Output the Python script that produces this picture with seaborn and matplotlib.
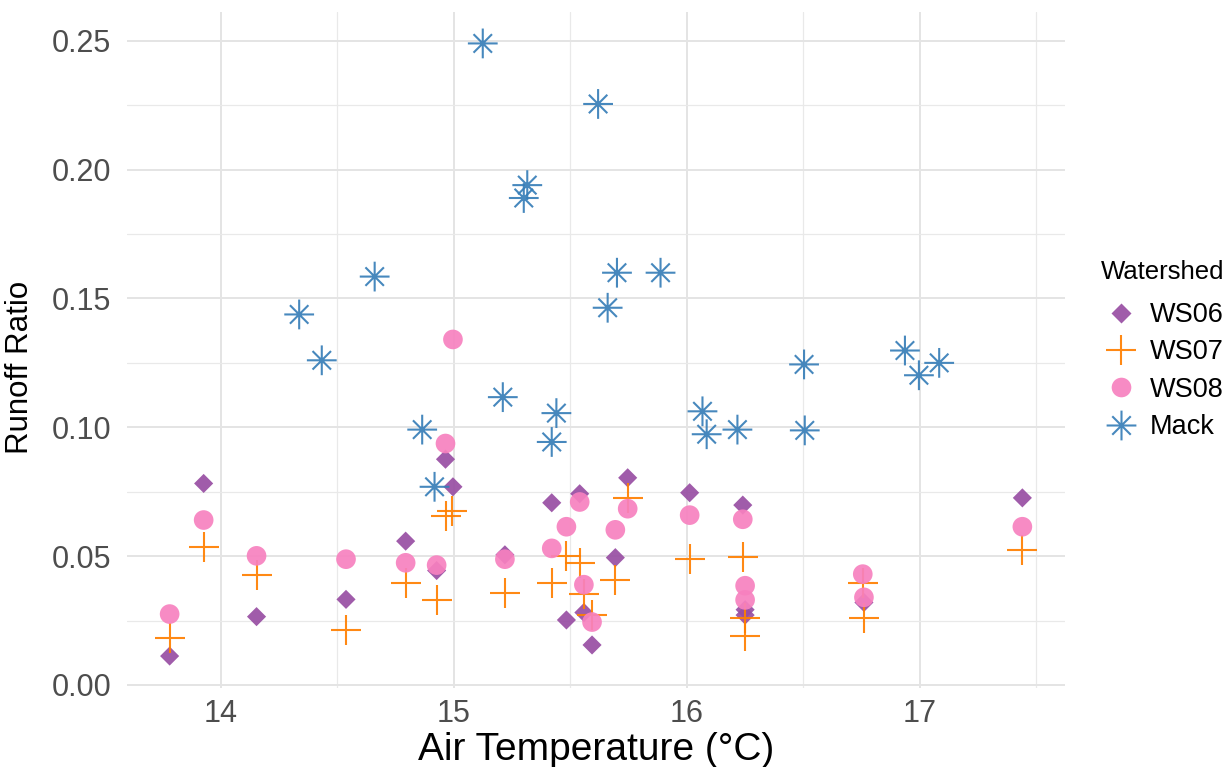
import numpy as np
import pandas as pd
import matplotlib
matplotlib.use("Agg")
import matplotlib.pyplot as plt
from matplotlib.path import Path
from matplotlib.lines import Line2D
import seaborn as sns

# ---------------- data ----------------
ws06_temp = [13.78, 13.926, 14.153, 14.537, 14.793, 14.926, 14.964, 14.996, 15.219,
             15.42, 15.483, 15.54, 15.558, 15.593, 15.693, 15.746, 16.012, 16.24,
             16.25, 16.25, 16.76, 17.44]
ws06_ratio = [0.0112, 0.0782, 0.0265, 0.0332, 0.0558, 0.0444, 0.0876, 0.0769, 0.0505,
              0.0707, 0.0252, 0.0742, 0.0281, 0.0155, 0.0494, 0.0804, 0.0746, 0.0698,
              0.0292, 0.0271, 0.032, 0.0726]

ws07_temp = [13.78, 13.926, 14.153, 14.537, 14.793, 14.926, 14.967, 14.993, 15.219,
             15.42, 15.483, 15.54, 15.558, 15.593, 15.693, 15.746, 16.012, 16.24,
             16.25, 16.25, 16.755, 16.76, 17.44]
ws07_ratio = [0.0181, 0.0536, 0.0426, 0.0213, 0.0397, 0.0329, 0.0655, 0.0675, 0.0358,
              0.0394, 0.0501, 0.0474, 0.0353, 0.0271, 0.0407, 0.0726, 0.049, 0.0497,
              0.0258, 0.019, 0.0394, 0.0258, 0.0523]

ws08_temp = [13.78, 13.926, 14.153, 14.537, 14.793, 14.926, 14.964, 14.996, 15.219,
             15.42, 15.483, 15.54, 15.558, 15.593, 15.693, 15.746, 16.012, 16.24,
             16.25, 16.25, 16.755, 16.76, 17.44]
ws08_ratio = [0.0275, 0.064, 0.0501, 0.0488, 0.0474, 0.0465, 0.0937, 0.1341, 0.0488,
              0.053, 0.0614, 0.071, 0.0389, 0.0244, 0.0602, 0.0684, 0.0659, 0.0643,
              0.0385, 0.033, 0.043, 0.034, 0.0614]

mack_temp = [15.124, 15.619, 15.315, 15.30, 14.66, 15.70, 15.887, 15.66, 14.336,
             14.433, 15.21, 15.44, 14.864, 15.42, 16.503, 16.936, 16.996, 17.083,
             16.067, 16.085, 16.217, 16.506, 14.917]
mack_ratio = [0.249, 0.2255, 0.194, 0.189, 0.1585, 0.160, 0.160, 0.1464, 0.1438,
              0.126, 0.1117, 0.1055, 0.0991, 0.0943, 0.1244, 0.1298, 0.1202, 0.125,
              0.1062, 0.0973, 0.0991, 0.0988, 0.0769]

watersheds = ["WS06", "WS07", "WS08", "Mack"]
x_ticks = [14, 15, 16, 17]
y_ticks = [0.00, 0.05, 0.10, 0.15, 0.20, 0.25]

# ---------------- styling ----------------
colors = {"WS06": "#984EA3", "WS07": "#FF7F00", "WS08": "#F781BF", "Mack": "#377EB8"}

d = 0.62
asterisk = Path(
    [(0, -1), (0, 1), (-1, 0), (1, 0), (-d, -d), (d, d), (-d, d), (d, -d)],
    [Path.MOVETO, Path.LINETO] * 4,
)
markers = {"WS06": "D", "WS07": "+", "WS08": "o", "Mack": asterisk}
sizes = {"WS06": 95, "WS07": 470, "WS08": 200, "Mack": 460}

frames = []
for name, xs, ys in [("WS06", ws06_temp, ws06_ratio), ("WS07", ws07_temp, ws07_ratio),
                     ("WS08", ws08_temp, ws08_ratio), ("Mack", mack_temp, mack_ratio)]:
    frames.append(pd.DataFrame({"temp": xs, "ratio": ys, "Watershed": name}))
df = pd.concat(frames, ignore_index=True)

sns.set_style("white")
plt.rcParams["font.family"] = ["Liberation Sans", "DejaVu Sans"]

fig = plt.figure(figsize=(12.29, 7.67), dpi=100)
ax = fig.add_axes([127 / 1229, 1 - 688 / 767, (1065 - 127) / 1229, (688 - 12) / 767])

for name in watersheds:
    sub = df[df["Watershed"] == name]
    kw = dict(data=sub, x="temp", y="ratio", ax=ax, marker=markers[name],
              s=sizes[name], color=colors[name], alpha=0.92, zorder=3, legend=False)
    if name in ("WS06", "WS08"):
        kw["edgecolor"] = "none"
    elif name == "WS07":
        kw["linewidth"] = 1.5
    else:
        kw["edgecolor"] = colors[name]
        kw["facecolor"] = "none"
        kw["linewidth"] = 1.5
    sns.scatterplot(**kw)

ax.set_xticks(x_ticks)
ax.set_xticklabels([str(t) for t in x_ticks])
ax.set_yticks(y_ticks)
ax.set_yticklabels([f"{t:.2f}" for t in y_ticks])
ax.set_xticks([14.5, 15.5, 16.5, 17.5], minor=True)
ax.set_yticks(np.arange(0.025, 0.26, 0.05), minor=True)
ax.set_xlim(13.597, 17.623)
ax.set_ylim(-0.0012, 0.2612)
ax.grid(True, which="major", color="#e4e4e4", linewidth=1.4, zorder=0)
ax.grid(True, which="minor", color="#e9e9e9", linewidth=0.9, zorder=0)
ax.set_axisbelow(True)
for sp in ax.spines.values():
    sp.set_visible(False)
ax.tick_params(axis="both", which="both", length=0, labelsize=22,
               labelcolor="#4D4D4D")
ax.tick_params(axis="y", pad=11.5)
ax.tick_params(axis="x", pad=8)

ax.set_xlabel("Air Temperature (°C)", fontsize=28, color="black", labelpad=2)
ax.set_ylabel("Runoff Ratio", fontsize=22.5, color="black")
ax.yaxis.set_label_coords(-0.098, 0.475)

handles = []
for name in watersheds:
    m = markers[name]
    ms = np.sqrt(sizes[name])
    if name in ("WS06", "WS08"):
        h = Line2D([], [], linestyle="none", marker=m, markersize=ms,
                   markerfacecolor=colors[name], markeredgecolor="none", alpha=0.92)
    else:
        h = Line2D([], [], linestyle="none", marker=m, markersize=ms,
                   color=colors[name], markeredgewidth=1.5, alpha=0.92)
    handles.append(h)

leg = fig.legend(handles, watersheds, title="Watershed", loc="center left",
                 bbox_to_anchor=(1090 / 1229, 1 - 350 / 767), frameon=False,
                 fontsize=19.5, title_fontsize=18.5, handletextpad=0.3,
                 labelspacing=0.42, borderaxespad=0, handlelength=1.5,
                 labelcolor="black")
leg.get_title().set_color("black")
leg._legend_box.align = "left"
leg._legend_box.sep = leg._legend_box.sep + 5

fig.savefig("out.png", dpi=100)
